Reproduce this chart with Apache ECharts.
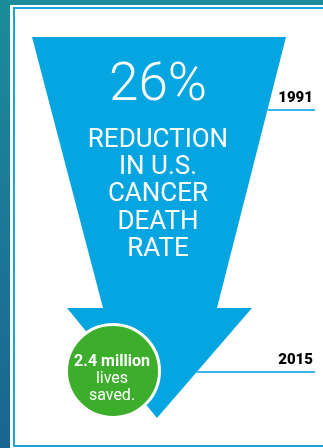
<!DOCTYPE html>
<html>
<head>
<meta charset="utf-8">
<script src="https://cdn.jsdelivr.net/npm/echarts@6/dist/echarts.min.js"></script>
<style>
  html, body { margin: 0; padding: 0; }
  #chart { width: 323px; height: 448px; }
</style>
</head>
<body>
<div id="chart"></div>
<script>
// data
var years = [1991, 2015];
var reductionPct = 26;
var headlineLines = ['REDUCTION', 'IN U.S.', 'CANCER', 'DEATH', 'RATE'];
var livesSaved = 2.4;
var livesLines = ['lives', 'saved.'];

var BLUE = '#04a5e0';
var GREEN = '#3dae2b';

// arrow outline (decoration)
var arrowPts = [[32, 37], [286, 37], [217, 308], [252, 308], [157, 418], [67, 308], [103, 308]];

// x of the arrow's right edge at pixel y
function arrowRightEdge(y) {
    if (y <= 308) {
        return 286 + (217 - 286) * (y - 37) / (308 - 37);
    }
    return 252 + (157 - 252) * (y - 308) / (418 - 308);
}

var myChart = echarts.init(document.getElementById('chart'));

var graphics = [
    // white panel + thin blue frame
    { type: 'rect', shape: { x: 10, y: 5, width: 330, height: 460 }, style: { fill: '#fff' }, z: 0 },
    { type: 'rect', shape: { x: 14, y: 8, width: 330, height: 438 }, style: { fill: 'none', stroke: '#1ea3df', lineWidth: 2 }, z: 1 },
    // arrow
    { type: 'polygon', shape: { points: arrowPts }, style: { fill: BLUE }, z: 2 },
    // big percent
    {
        type: 'text', x: 158, y: 87, z: 5,
        style: { text: reductionPct + '%', fill: '#fff', font: '300 53px Roboto', align: 'center', verticalAlign: 'middle' }
    },
    // green circle
    { type: 'circle', shape: { cx: 113, cy: 371, r: 46.5 }, style: { fill: GREEN, stroke: '#fff', lineWidth: 3 }, z: 6 },
    {
        type: 'text', x: 112, y: 362, z: 7,
        style: { text: livesSaved + ' million', fill: '#fff', font: 'bold 16px Roboto', align: 'center', verticalAlign: 'middle' }
    }
];

headlineLines.forEach(function (t, i) {
    graphics.push({
        type: 'text', x: 158, y: 140 + i * 27.4, z: 5,
        style: { text: t, fill: '#fff', font: '26px Roboto', align: 'center', verticalAlign: 'middle' }
    });
});
livesLines.forEach(function (t, i) {
    graphics.push({
        type: 'text', x: 112, y: 379 + i * 17, z: 7,
        style: { text: t, fill: '#fff', font: '16px Roboto', align: 'center', verticalAlign: 'middle' }
    });
});

option = {
    animation: false,
    backgroundColor: {
        type: 'linear', x: 0, y: 0, x2: 0, y2: 1,
        colorStops: [{ offset: 0, color: '#1b8c9a' }, { offset: 1, color: '#1a6592' }]
    },
    grid: { left: 0, right: 0, top: 110, bottom: 76 },
    xAxis: { type: 'value', min: 0, max: 323, show: false },
    yAxis: { type: 'value', min: years[0], max: years[years.length - 1], inverse: true, show: false },
    graphic: graphics,
    series: [
        {
            type: 'custom',
            z: 10,
            data: years.map(function (y) { return [0, y]; }),
            encode: { x: 0, y: 1 },
            renderItem: function (params, api) {
                var p = api.coord([0, api.value(1)]);
                var y = p[1];
                return {
                    type: 'group',
                    children: [
                        {
                            type: 'line',
                            shape: { x1: arrowRightEdge(y), y1: y, x2: 315, y2: y },
                            style: { stroke: '#3db5e8', lineWidth: 2 }
                        },
                        {
                            type: 'text', x: 313, y: y - 12,
                            style: { text: String(api.value(1)), fill: '#000', font: '900 15px Roboto', align: 'right', verticalAlign: 'middle' }
                        }
                    ]
                };
            }
        }
    ]
};

myChart.setOption(option);
</script>
</body>
</html>
